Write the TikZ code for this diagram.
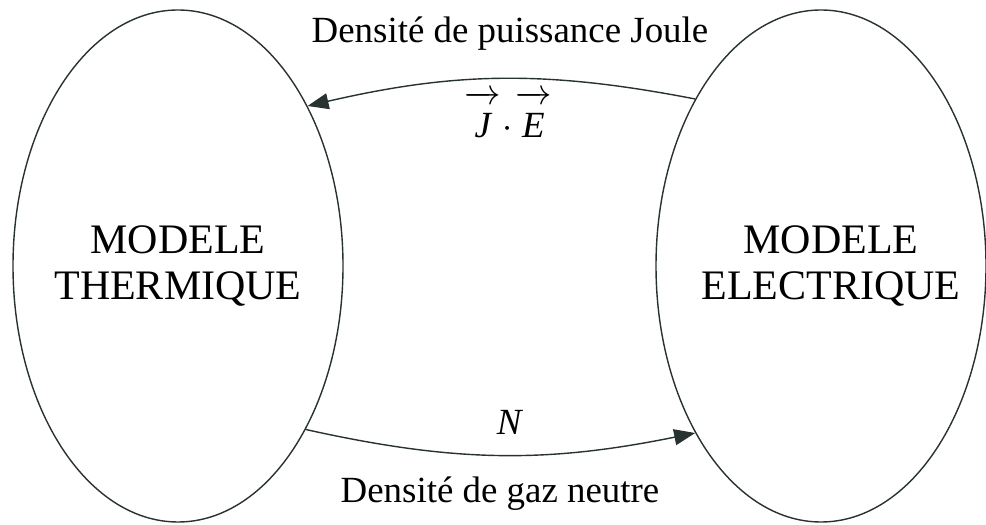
\documentclass[tikz,border=0pt]{standalone}
\usepackage{fontspec}
\setmainfont{Liberation Serif}
\usepackage{amsmath}
\usetikzlibrary{arrows.meta,shapes.geometric}
\definecolor{ink}{RGB}{40,50,48}

\begin{document}
\begin{tikzpicture}[every node/.style={font=\fontsize{21}{24}\selectfont},
      model/.style={draw=ink,ellipse,line width=0.8pt,minimum width=6.6cm,minimum height=10.24cm,
        inner sep=-1.6cm,align=center,font=\fontsize{23.9}{26.2}\selectfont},
      flux/.style={draw=ink,line width=0.8pt,-{Triangle[length=4.2mm,width=3.2mm]}}]
    \useasboundingbox (0,0) rectangle (19.72,10.48);
    \node[model] (therm) at (3.56,5.16) {MODELE\\THERMIQUE};
    \node[model] (elec) at (16.42,5.16) {\hspace*{0.4cm}MODELE\\\hspace*{0.4cm}ELECTRIQUE};
    \draw[flux] (elec.127.5) to[bend right=12] (therm.51);
    \draw[flux] (therm.-52) to[bend right=12] (elec.233);
    \node[anchor=base] (joule) at (10.2,9.62) {Densité de puissance Joule};
    \node[anchor=base] (je) at (10.16,7.72)
      {$\overrightarrow{\,\textit{J}\rule{0pt}{19pt}\,}\!\cdot\!\overrightarrow{\,\textit{E}\rule{0pt}{19pt}\,}$};
    \node[anchor=base] (n) at (10.2,1.78) {\textit{N}};
    \node[anchor=base] (gaz) at (10.0,0.42) {Densité de gaz neutre};
  \end{tikzpicture}
\end{document}
